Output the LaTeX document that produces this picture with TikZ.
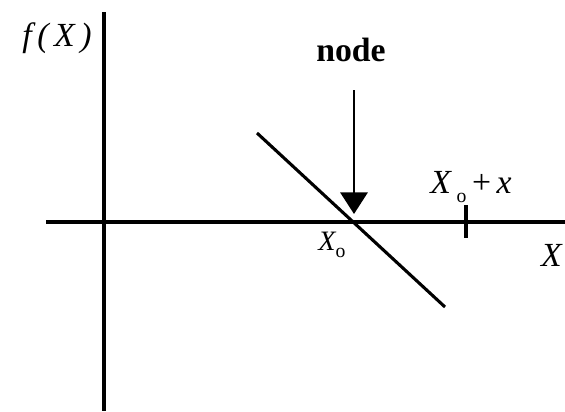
\documentclass[tikz,border=0pt]{standalone}
\usepackage{fontspec}
\setmainfont{Liberation Serif}
\usepackage{tikz}
\usetikzlibrary{positioning,arrows.meta}

\tikzset{
  axisline/.style={line width=1.1pt},
  lbl/.style={inner sep=1pt, font=\fontsize{12}{14}\selectfont\itshape},
}

\begin{document}
\begin{tikzpicture}[x=0.0125cm, y=-0.0125cm, >=stealth]
    \useasboundingbox (0,0) rectangle (565,411);
    % Coordinates
    \coordinate (ytop) at (104,12);
    \coordinate (ybot) at (104,411);
    \coordinate (xleft) at (46,222);
    \coordinate (xright) at (565,222);
    \coordinate (lineA) at (257,133);
    \coordinate (lineB) at (445,307);
    \coordinate (arrtop) at (354,90);
    \coordinate (root) at (354,214);
    \coordinate (ticktop) at (466,205);
    \coordinate (tickbot) at (466,238);

    % Nodes
    \node [lbl] (fx) at (57,38) {f\,(\,X\,)};
    \node [inner sep=1pt, font=\fontsize{12}{14}\selectfont\bfseries] (nodelbl) at (351,50) {node};
    \node [lbl, font=\fontsize{10}{12}\selectfont\itshape] (xo) at (332,245) {X\raisebox{-0.5ex}{\upshape\scriptsize o}};
    \node [lbl] (xox) at (471,187) {X\,\raisebox{-0.6ex}{\upshape\scriptsize o}\,\upshape+\,\itshape x};
    \node [lbl, anchor=east] (xlab) at (565,255) {X};

    % Paths
    \draw [axisline] (ytop) -- (ybot);
    \draw [axisline] (xleft) -- (xright);
    \draw [axisline] (lineA) -- (lineB);
    \draw [axisline] (ticktop) -- (tickbot);
    \draw [-{Triangle[width=0.34cm, length=0.27cm]}, line width=0.9pt] (arrtop) -- (root);
  \end{tikzpicture}
\end{document}
